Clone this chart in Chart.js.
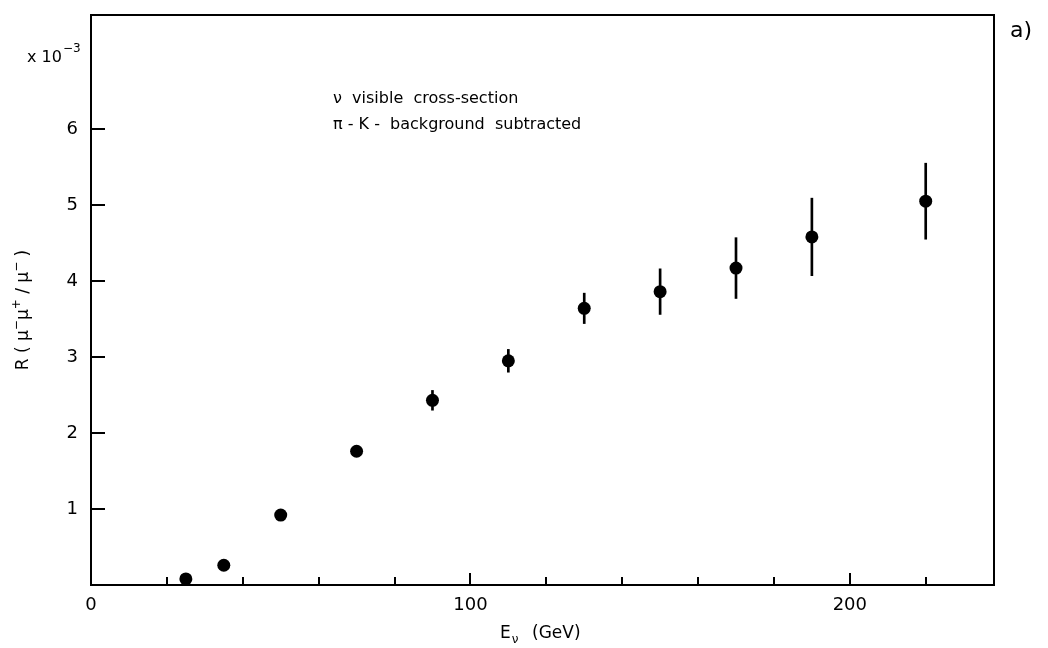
<!DOCTYPE html>
<html>
<head>
<meta charset="utf-8">
<script src="https://cdn.jsdelivr.net/npm/chart.js@4.4.1/dist/chart.umd.min.js"></script>
<style>
html,body{margin:0;padding:0;background:#fff;}
#wrap{width:1048px;height:648px;position:relative;}
</style>
</head>
<body>
<div id="wrap"><canvas id="c" width="1048" height="648"></canvas></div>
<script>
// ---- data ----
const energies = [25, 35, 50, 70, 90, 110, 130, 150, 170, 190, 220];          // E_nu (GeV)
const ratios   = [0.08, 0.26, 0.92, 1.76, 2.43, 2.95, 3.64, 3.86, 4.17, 4.58, 5.05]; // R x 10^-3
const errors   = [0.03, 0.04, 0.05, 0.07, 0.13, 0.15, 0.20, 0.30, 0.40, 0.51, 0.50];
const xTickLabels = [0, 100, 200];
const yTickLabels = [1, 2, 3, 4, 5, 6];
const annotationLines = ['\u03BD  visible  cross-section', '\u03C0 - K -  background  subtracted'];

const FONT = '"DejaVu Sans", sans-serif';

const points = energies.map((e, i) => ({x: e, y: ratios[i]}));
const bars = energies.map((e, i) => ({x: e, y: [ratios[i] - errors[i], ratios[i] + errors[i]]}));

const decor = {
  id: 'decor',
  afterDraw(chart) {
    const ctx = chart.ctx;
    const a = chart.chartArea;
    const xs = chart.scales.x, ys = chart.scales.y;
    ctx.save();
    ctx.strokeStyle = '#000';
    ctx.fillStyle = '#000';
    // frame
    ctx.lineWidth = 2;
    ctx.strokeRect(a.left, a.top, a.right - a.left, a.bottom - a.top);
    // x tick marks (inward)
    xs.ticks.forEach(t => {
      if (t.value <= 0 || t.value % 20 !== 0) return;
      const px = Math.round(xs.getPixelForValue(t.value));
      const len = (t.value % 100 === 0) ? 12 : 8;
      ctx.beginPath(); ctx.moveTo(px, a.bottom); ctx.lineTo(px, a.bottom - len); ctx.stroke();
    });
    // y tick marks (inward)
    ys.ticks.forEach(t => {
      if (!yTickLabels.includes(t.value)) return;
      const py = Math.round(ys.getPixelForValue(t.value));
      ctx.beginPath(); ctx.moveTo(a.left, py); ctx.lineTo(a.left + 14, py); ctx.stroke();
    });
    // multiplier
    ctx.textBaseline = 'alphabetic';
    ctx.textAlign = 'left';
    ctx.font = '16px ' + FONT;
    ctx.fillText('x 10', 27, 62);
    const w = ctx.measureText('x 10').width;
    ctx.font = '12px ' + FONT;
    ctx.fillText('\u22123', 27 + w + 1, 52);
    // panel label
    ctx.font = '22px ' + FONT;
    ctx.fillText('a)', 1010, 37);
    // annotations
    ctx.font = '16px ' + FONT;
    ctx.textBaseline = 'middle';
    ctx.fillText(annotationLines[0], 333, 99);
    ctx.fillText(annotationLines[1], 333, 125);
    // x title  E_nu (GeV)
    ctx.textBaseline = 'alphabetic';
    ctx.font = '17px ' + FONT;
    ctx.fillText('E', 500, 638);
    const eW = ctx.measureText('E').width;
    ctx.font = '12px ' + FONT;
    ctx.fillText('\u03BD', 500 + eW + 1, 643);
    ctx.font = '17px ' + FONT;
    ctx.fillText('(GeV)', 532, 638);
    // y title rotated
    ctx.translate(24, 310);
    ctx.rotate(-Math.PI / 2);
    const parts = [['R ( \u03BC', 17, 0], ['\u2212', 12, -7], ['\u03BC', 17, 0], ['+', 12, -7], [' / \u03BC', 17, 0], ['\u2212', 12, -7], [' )', 17, 0]];
    let total = 0;
    parts.forEach(p => { ctx.font = p[1] + 'px ' + FONT; total += ctx.measureText(p[0]).width; });
    let cx = -total / 2;
    ctx.textBaseline = 'middle';
    parts.forEach(p => { ctx.font = p[1] + 'px ' + FONT; ctx.fillText(p[0], cx, p[2]); cx += ctx.measureText(p[0]).width; });
    ctx.restore();
  }
};

new Chart(document.getElementById('c'), {
  type: 'scatter',
  data: {
    datasets: [
      {
        type: 'scatter',
        data: points,
        pointRadius: 6.5,
        pointHoverRadius: 6.5,
        pointBackgroundColor: '#000',
        pointBorderWidth: 0,
        showLine: false,
        order: 1
      },
      {
        type: 'bar',
        data: bars,
        backgroundColor: '#000',
        barThickness: 2,
        grouped: false,
        order: 2
      }
    ]
  },
  options: {
    responsive: false,
    animation: false,
    devicePixelRatio: 1,
    layout: {padding: {left: 0, top: 15, right: 54, bottom: 0}},
    plugins: {legend: {display: false}, tooltip: {enabled: false}},
    scales: {
      x: {
        type: 'linear',
        min: 0, max: 238,
        offset: false,
        grid: {display: false, drawTicks: false},
        border: {display: false},
        ticks: {
          stepSize: 20,
          autoSkip: false,
          maxRotation: 0,
          padding: 10,
          color: '#000',
          font: {size: 18, family: FONT},
          callback: v => xTickLabels.includes(v) ? String(v) : ''
        },
        afterFit: s => { s.height = 63; s.paddingLeft = 0; s.paddingRight = 0; }
      },
      y: {
        type: 'linear',
        min: 0, max: 7.5,
        grid: {display: false, drawTicks: false},
        border: {display: false},
        ticks: {
          stepSize: 1,
          autoSkip: false,
          padding: 13,
          color: '#000',
          font: {size: 18, family: FONT},
          callback: v => yTickLabels.includes(v) ? String(v) : ''
        },
        afterFit: s => { s.width = 91; s.paddingTop = 0; s.paddingBottom = 0; }
      }
    }
  },
  plugins: [decor]
});
</script>
</body>
</html>
